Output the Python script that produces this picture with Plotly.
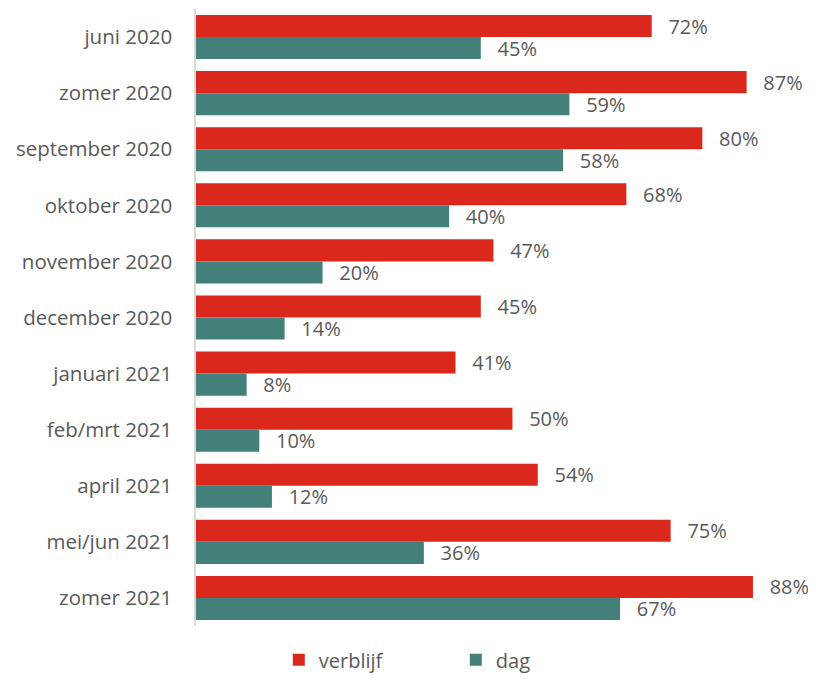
import plotly.graph_objects as go

categories = ["juni 2020", "zomer 2020", "september 2020", "oktober 2020", "november 2020",
              "december 2020", "januari 2021", "feb/mrt 2021", "april 2021", "mei/jun 2021",
              "zomer 2021"]
verblijf = [72, 87, 80, 68, 47, 45, 41, 50, 54, 75, 88]
dag = [45, 59, 58, 40, 20, 14, 8, 10, 12, 36, 67]

RED = "#DA291C"
TEAL = "#44807A"
TXT = "#595959"
FONT = "Open Sans"
PAD = "  \u2009"

fig = go.Figure()
fig.add_trace(go.Bar(
    y=categories, x=verblijf, name="verblijf", orientation="h",
    marker=dict(color=RED, line=dict(width=0)),
    text=[f"{PAD}{v}%" for v in verblijf], textposition="outside", constraintext="none",
    textfont=dict(family=FONT, size=20, color=TXT), cliponaxis=False,
))
fig.add_trace(go.Bar(
    y=categories, x=dag, name="dag", orientation="h",
    marker=dict(color=TEAL, line=dict(width=0)),
    text=[f"{PAD}{v}%" for v in dag], textposition="outside", constraintext="none",
    textfont=dict(family=FONT, size=20, color=TXT), cliponaxis=False,
))

fig.update_layout(
    width=808, height=681,
    margin=dict(l=188, r=20, t=1, b=63),
    paper_bgcolor="white", plot_bgcolor="white",
    barmode="group", bargap=0.214, bargroupgap=0,
    font=dict(family=FONT, size=20, color=TXT),
    showlegend=True,
    legend=dict(orientation="h", x=0.433, xanchor="center", y=-0.023, yanchor="top",
                font=dict(family=FONT, size=20, color=TXT), entrywidth=132,
                traceorder="normal"),
)
fig.update_xaxes(range=[0, 94.8], visible=False, showgrid=False, zeroline=False)
fig.update_yaxes(autorange="reversed", categoryorder="array", categoryarray=categories,
                 showline=True, linecolor="#D9D9D9", linewidth=1.5, ticks="",
                 ticklabelstandoff=18, tickfont=dict(family=FONT, size=20.5, color=TXT),
                 showgrid=False, automargin=False)

fig.write_html("out.html")
